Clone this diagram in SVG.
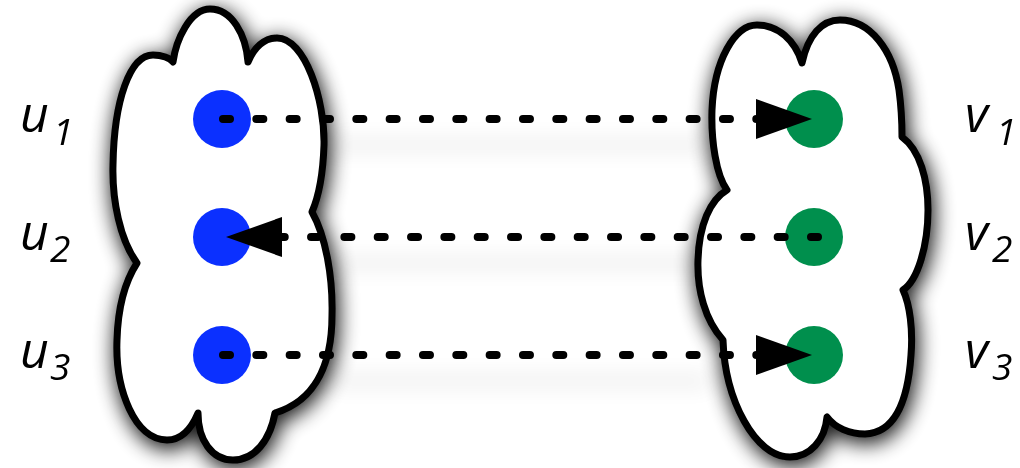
<svg xmlns="http://www.w3.org/2000/svg" width="1020" height="468" viewBox="0 0 1020 468">
<style>
.cloud{fill:#fff;stroke:#000;stroke-width:7;stroke-linejoin:round}
.u{fill:#0b30ff}
.v{fill:#008f4d}
.lbl{font-family:"Open Sans","Noto Sans",sans-serif;font-style:italic;font-size:50px;fill:#000}
.sub{font-size:37px}
.dash{fill:none;stroke:#000;stroke-width:8;stroke-linecap:round;stroke-dasharray:7 26.33}
</style>
<defs>
<filter id="sh" filterUnits="userSpaceOnUse" x="0" y="0" width="1020" height="468">
<feGaussianBlur stdDeviation="10"/>
</filter>
<filter id="lsh" filterUnits="userSpaceOnUse" x="300" y="80" width="440" height="360">
<feGaussianBlur in="SourceAlpha" stdDeviation="11"/>
<feOffset dx="0" dy="26" result="b"/>
<feComponentTransfer><feFuncA type="linear" slope="0.12"/></feComponentTransfer>
</filter>
<marker id="ah" viewBox="0 0 56 40" refX="56" refY="20" markerWidth="56" markerHeight="40" markerUnits="userSpaceOnUse" orient="auto">
<path d="M0,0 L56,20 L0,40 Z" fill="#000"/>
</marker>
<path id="cl" d="M173,62 C176,40 190,9 210,9 C232,9 246,35 248,62 C254,48 264,38 277,38 C305,38 325,100 324,145 C323,175 318,198 312,212 C325,235 333,275 332,315 C332,360 318,400 275,413 C270,440 255,460 233,460 C212,460 198,440 198,413 C190,432 180,440 167,440 C135,440 115,390 117,340 C118,305 126,280 137,263 C120,240 112,200 113,165 C114,100 130,55 153,55 C162,55 170,58 173,62 Z"/>
<path id="cr" d="M727,190 C716,175 711,140 712,110 C714,60 735,25 757,25 C778,25 795,40 802,63 C808,35 822,20 840,20 C870,20 893,50 899,90 C901,105 902,120 902,137 C920,150 928,180 928,210 C928,245 918,280 903,290 C910,305 913,330 911,355 C908,400 895,433 865,434 C850,434 835,428 827,417 C825,440 810,457 790,457 C755,457 725,400 723,340 C705,320 697,290 698,260 C699,225 710,200 727,190 Z"/>
</defs>
<rect width="1020" height="468" fill="#fff"/>
<g id="shadows">
<g filter="url(#lsh)"><path d="M330,119 L710,119 M330,237 L710,237 M330,355 L710,355" stroke="#000" stroke-width="8" fill="none"/></g>
<g filter="url(#sh)" fill="#000" stroke="#000" stroke-width="10" opacity="0.9">
<use href="#cl" transform="translate(2,5)"/>
<use href="#cr" transform="translate(2,5)"/>
</g>
</g>
<g id="cloud-left"><use class="cloud" href="#cl"/></g>
<g id="cloud-right"><use class="cloud" href="#cr"/></g>
<g id="u1"><circle class="u" cx="222" cy="119" r="29"/><text class="lbl" x="20" y="132">u<tspan class="sub" x="53" y="145">1</tspan></text></g>
<g id="u2"><circle class="u" cx="222" cy="237" r="29"/><text class="lbl" x="20" y="250">u<tspan class="sub" x="50" y="262">2</tspan></text></g>
<g id="u3"><circle class="u" cx="222" cy="355" r="29"/><text class="lbl" x="20" y="368">u<tspan class="sub" x="50" y="380">3</tspan></text></g>
<g id="v1"><circle class="v" cx="814" cy="119" r="29"/><text class="lbl" x="965" y="132">v<tspan class="sub" x="996" y="145">1</tspan></text></g>
<g id="v2"><circle class="v" cx="814" cy="237" r="29"/><text class="lbl" x="965" y="250">v<tspan class="sub" x="992" y="262">2</tspan></text></g>
<g id="v3"><circle class="v" cx="814" cy="355" r="29"/><text class="lbl" x="965" y="368">v<tspan class="sub" x="992" y="380">3</tspan></text></g>
<g id="connectors">
<path class="dash" d="M223,119 L812,119" marker-end="url(#ah)"/>
<path class="dash" d="M818,237 L226,237" marker-end="url(#ah)"/>
<path class="dash" d="M223,355 L812,355" marker-end="url(#ah)"/>
</g>
</svg>
